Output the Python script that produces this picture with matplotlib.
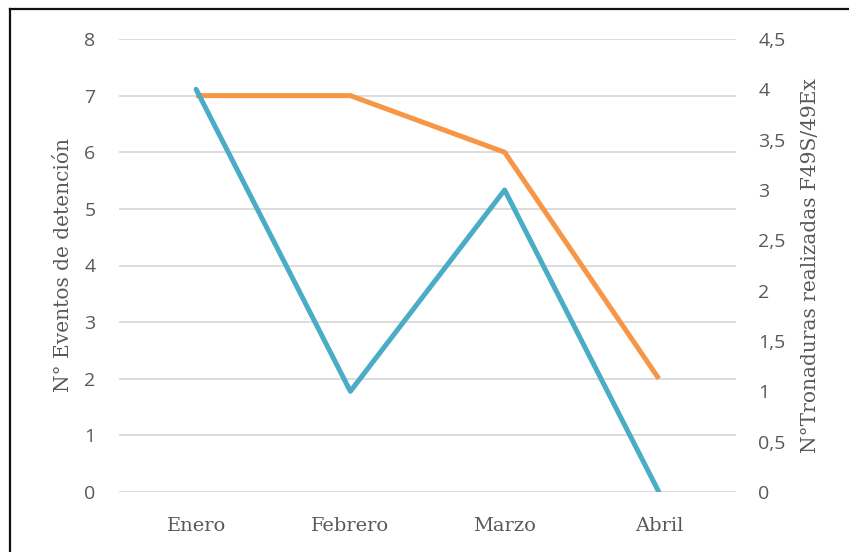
import matplotlib
matplotlib.use("Agg")
import matplotlib.pyplot as plt
from matplotlib.lines import Line2D
from matplotlib.ticker import FuncFormatter

months = ["Enero", "Febrero", "Marzo", "Abril"]
eventos = [7, 7, 6, 2]
tronaduras = [4, 1, 3, 0]
left_ticks = [0, 1, 2, 3, 4, 5, 6, 7, 8]
right_ticks = [0, 0.5, 1, 1.5, 2, 2.5, 3, 3.5, 4, 4.5]

ORANGE = "#F79646"
BLUE = "#4BACC6"
GRID = "#D9D9D9"
TXT = "#595959"
SANS = "Open Sans"
SERIF = "DejaVu Serif"

fig = plt.figure(figsize=(8.49, 5.52), dpi=100)
ax = fig.add_axes([119/849, 60/552, 617/849, 453/552])
ax2 = ax.twinx()

x = list(range(len(months)))
ax.plot(x, eventos, color=ORANGE, lw=3.6, solid_capstyle="butt", zorder=3)
ax2.plot(x, tronaduras, color=BLUE, lw=3.6, solid_capstyle="round", zorder=4)

ax.set_xlim(-0.5, len(months) - 0.5)
ax.set_ylim(0, 8)
ax2.set_ylim(0, 4.5)
ax.set_yticks(left_ticks)
ax2.set_yticks(right_ticks)
ax2.yaxis.set_major_formatter(FuncFormatter(lambda v, p: (f"{v:g}").replace(".", ",")))
ax.set_xticks(x)
ax.set_xticklabels(months, fontfamily=SERIF, fontsize=14, color=TXT)

for a in (ax, ax2):
    for s in a.spines.values():
        s.set_visible(False)
    a.tick_params(length=0)
ax.tick_params(axis="y", pad=17, labelsize=14, labelcolor=TXT)
ax2.tick_params(axis="y", pad=16, labelsize=14, labelcolor=TXT)
ax.tick_params(axis="x", pad=18)
for lbl in ax.get_yticklabels() + ax2.get_yticklabels():
    lbl.set_fontfamily(SANS)

ax.grid(axis="y", color=GRID, lw=1.3)
ax.set_axisbelow(True)

ax.set_ylabel("N° Eventos de detención", fontfamily=SERIF, fontsize=14.5, color=TXT, labelpad=8)
ax2.set_ylabel("N°Tronaduras realizadas F49S/49Ex", fontfamily=SERIF, fontsize=14.5, color=TXT, labelpad=11)

# outer frame (top and left)
fig.add_artist(Line2D([10/849, 10/849], [0, 1 - 9/552], transform=fig.transFigure, color="#111111", lw=1.6))
fig.add_artist(Line2D([10/849, 1], [1 - 9/552, 1 - 9/552], transform=fig.transFigure, color="#111111", lw=1.6))

fig.savefig("out.png", dpi=100)
